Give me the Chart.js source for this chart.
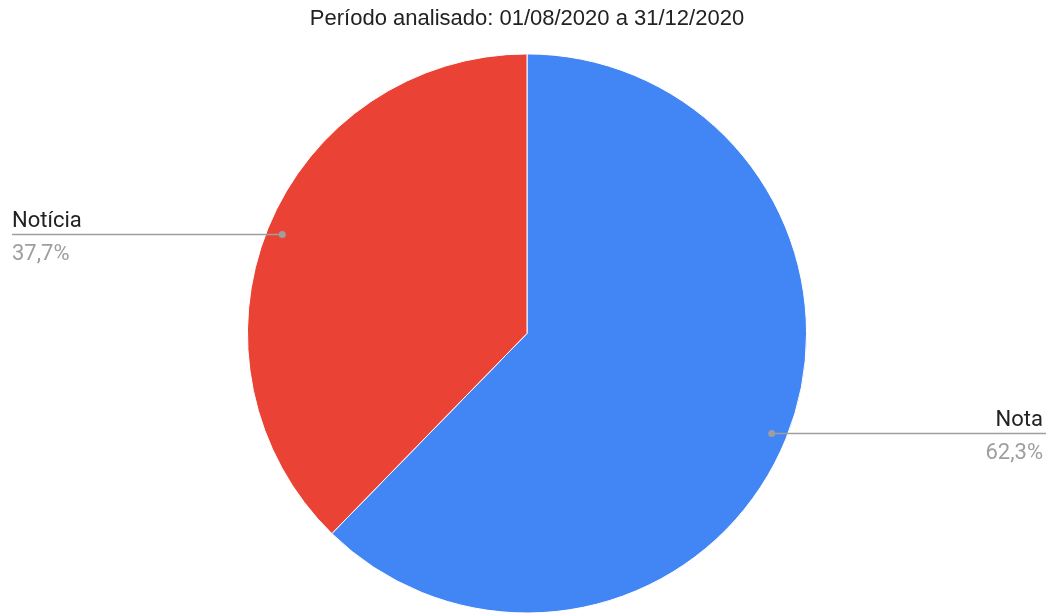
<!DOCTYPE html>
<html>
<head>
<meta charset="utf-8">
<script src="https://cdn.jsdelivr.net/npm/chart.js@4/dist/chart.umd.min.js"></script>
<style>
  html, body { margin: 0; padding: 0; background: #fff; }
  #wrap { width: 1054px; height: 616px; }
</style>
</head>
<body>
<div id="wrap"><canvas id="grafico"></canvas></div>
<script>
// dati del grafico
var categorie = ["Nota", "Notícia"];
var valori = [62.3, 37.7];
var etichettePerc = ["62,3%", "37,7%"];
var colori = ["#4285f4", "#ea4335"];

// etichette esterne con linea guida
var etichettePlugin = {
    id: "etichette",
    afterDatasetsDraw: function (chart) {
        var ctx = chart.ctx;
        var meta = chart.getDatasetMeta(0);
        ctx.save();
        meta.data.forEach(function (arc, i) {
            var p = arc.getProps(["x", "y", "startAngle", "endAngle", "outerRadius"], true);
            var mid = (p.startAngle + p.endAngle) / 2;
            var r = p.outerRadius * 0.945;
            var px = p.x + Math.cos(mid) * r;
            var py = Math.round(p.y + Math.sin(mid) * r) + 0.5;
            var sinistra = px < p.x;
            var fine = sinistra ? 12 : 1046;

            ctx.strokeStyle = "#9e9e9e";
            ctx.lineWidth = 1.5;
            ctx.beginPath();
            ctx.moveTo(px, py);
            ctx.lineTo(fine, py);
            ctx.stroke();

            ctx.fillStyle = "#9e9e9e";
            ctx.beginPath();
            ctx.arc(px, py, 3.5, 0, Math.PI * 2);
            ctx.fill();

            ctx.textAlign = sinistra ? "left" : "right";
            var tx = sinistra ? 12 : 1043;
            ctx.font = "22px Roboto";
            ctx.textBaseline = "alphabetic";
            ctx.fillStyle = "#222222";
            ctx.fillText(categorie[i], tx, py - 8);
            ctx.fillStyle = "#9e9e9e";
            ctx.fillText(etichettePerc[i], tx, py + 25);
        });
        ctx.restore();
    }
};

var ctx = document.getElementById("grafico");
var myChart = new Chart(ctx, {
    type: "pie",
    data: {
        labels: categorie,
        datasets: [
            {
                data: valori,
                backgroundColor: colori,
                borderColor: "#ffffff",
                borderWidth: 1
            }
        ]
    },
    options: {
        responsive: true,
        maintainAspectRatio: false,
        animation: false,
        layout: { padding: { bottom: 2.5 } },
        plugins: {
            legend: { display: false },
            tooltip: { enabled: false },
            title: {
                display: true,
                text: "Período analisado: 01/08/2020 a 31/12/2020",
                color: "#222222",
                font: { family: "'Liberation Sans', Arial", size: 22, weight: "normal" },
                padding: { top: 6, bottom: 21 }
            }
        }
    },
    plugins: [etichettePlugin]
});
</script>
</body>
</html>
